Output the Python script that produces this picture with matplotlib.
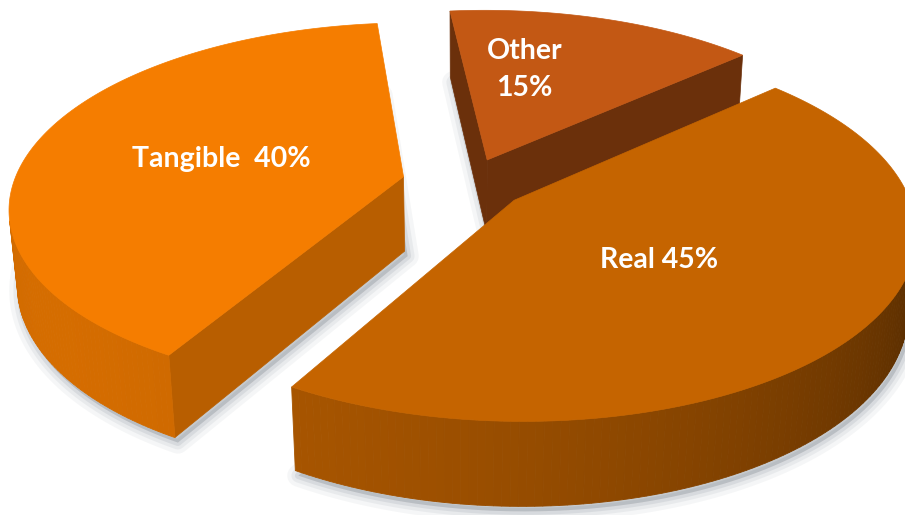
import numpy as np
import matplotlib.pyplot as plt
from matplotlib.patches import Polygon

# data
labels = ['Tangible  40%', 'Real 45%', 'Other\n15%']
values = [40, 45, 15]
explode = [0.17, 0.15, 0.14]
colors = ['#F57D00', '#C56400', '#C35814']
cut_shade = [0.75, 0.7, 0.55]
label_r = [0.49, 0.46, 0.58]
label_dt = [0, -3, 10]
startangle = 96

# camera / projection
cx, cy = 468, 183
S = 390
elev = np.radians(27.5)
D = 5.6
h = 0.22
cam = np.array([0, -D * np.cos(elev), D * np.sin(elev)])


def proj(x, y, z):
    w = 1 + (y * np.cos(elev) - z * np.sin(elev)) / D
    u = cx + S * x / w
    v = cy - S * (y * np.sin(elev) + z * np.cos(elev)) / w
    return np.column_stack([np.atleast_1d(u), np.atleast_1d(v)])


def shade(c, f):
    r, g, b = plt.matplotlib.colors.to_rgb(c)
    return (min(r * f, 1), min(g * f, 1), min(b * f, 1))


def visible(n, p):
    return np.dot(n, cam - p) > 0


fig = plt.figure(figsize=(9.05, 5.15), dpi=100)
ax = fig.add_axes([0, 0, 1, 1])
ax.set_xlim(0, 905)
ax.set_ylim(515, 0)
ax.axis('off')

total = sum(values)
angles = np.cumsum([0] + values) / total * 360 + startangle

slices = []
for i in range(len(values)):
    t0, t1 = angles[i], angles[i + 1]
    mid = np.radians((t0 + t1) / 2)
    ax0 = explode[i] * np.cos(mid)
    ay0 = explode[i] * np.sin(mid)
    slices.append((i, t0, t1, mid, ax0, ay0))

# far slices first
slices.sort(key=lambda s: -(s[5] + 0.5 * np.sin(s[3])))

# soft shadows
for i, t0, t1, mid, ax0, ay0 in slices:
    th = np.radians(np.linspace(t0, t1, 120))
    xs = np.concatenate([[ax0], ax0 + np.cos(th)])
    ys = np.concatenate([[ay0], ay0 + np.sin(th)])
    pb = proj(xs, ys, -h * np.ones_like(xs)) + [3, 5]
    for lw, a in [(16, 0.05), (10, 0.07), (5, 0.1)]:
        ax.add_patch(Polygon(pb, closed=True, facecolor='#4a5563', edgecolor='#4a5563',
                             lw=lw, alpha=a, joinstyle='round'))

for i, t0, t1, mid, ax0, ay0 in slices:
    c = colors[i]
    th = np.radians(np.linspace(t0, t1, 160))
    ox = ax0 + np.cos(th)
    oy = ay0 + np.sin(th)
    top = proj(ox, oy, np.zeros_like(ox))
    bot = proj(ox, oy, -h * np.ones_like(ox))
    apex_t = proj(ax0, ay0, 0)[0]
    apex_b = proj(ax0, ay0, -h)[0]

    # cut faces
    for k, tt, nang in [(0, th[0], th[0] - np.pi / 2), (-1, th[-1], th[-1] + np.pi / 2)]:
        n = np.array([np.cos(nang), np.sin(nang), 0])
        p = np.array([ax0 + 0.5 * np.cos(tt), ay0 + 0.5 * np.sin(tt), -h / 2])
        if visible(n, p):
            poly = [apex_t, top[k], bot[k], apex_b]
            fc = shade(c, cut_shade[i])
            ax.add_patch(Polygon(poly, closed=True, facecolor=fc, edgecolor=fc, lw=0.5))

    # outer wall
    for j in range(len(th) - 1):
        tm = (th[j] + th[j + 1]) / 2
        n = np.array([np.cos(tm), np.sin(tm), 0])
        p = np.array([ax0 + np.cos(tm), ay0 + np.sin(tm), -h / 2])
        if visible(n, p):
            f = 0.62 + 0.25 * np.cos(tm - np.radians(215))
            fc = shade(c, f)
            poly = [top[j], top[j + 1], bot[j + 1], bot[j]]
            ax.add_patch(Polygon(poly, closed=True, facecolor=fc, edgecolor=fc, lw=0.6))

    # top face
    ax.add_patch(Polygon(np.vstack([apex_t, top]), closed=True, facecolor=c, edgecolor=c, lw=0.5))

    # label
    la = mid + np.radians(label_dt[i])
    lp = proj(ax0 + label_r[i] * np.cos(la), ay0 + label_r[i] * np.sin(la), 0)[0]
    ax.text(lp[0], lp[1], labels[i], color='white', fontsize=20.5, fontweight='bold',
            family='Lato', ha='center', va='center', linespacing=1.55)

fig.savefig('out.png', dpi=100)
